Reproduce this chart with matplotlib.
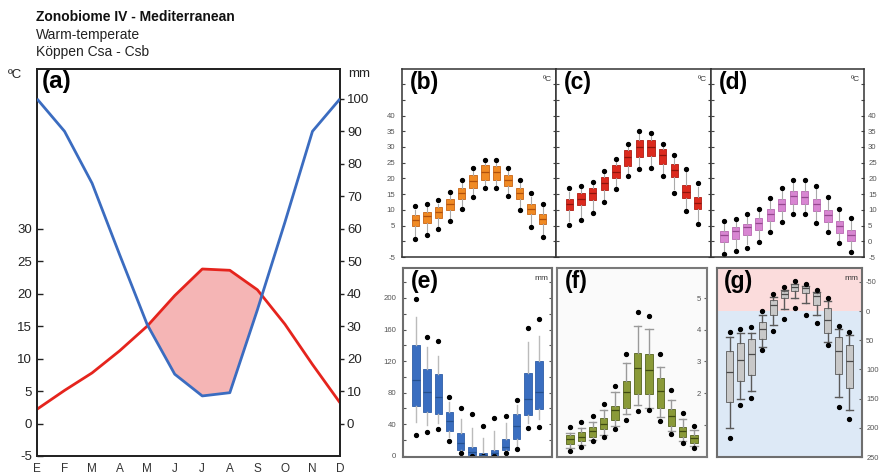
import matplotlib
matplotlib.use('Agg')
import matplotlib.pyplot as plt
import numpy as np

plt.rcParams['font.family'] = ['Liberation Sans', 'DejaVu Sans']
plt.rcParams['axes.unicode_minus'] = False

# ---------------- climate diagram data ----------------
months = ['E', 'F', 'M', 'A', 'M', 'J', 'J', 'A', 'S', 'O', 'N', 'D']
temp_mean = [2.2, 5.1, 7.8, 11.2, 15.0, 19.7, 23.8, 23.6, 20.6, 15.3, 9.1, 3.2]
prec_mean = [100, 90, 74, 52, 30.5, 15.2, 8.5, 9.5, 35, 62, 90, 100]

# ---------------- monthly distributions ----------------
# (b) mean temperature, degC
b_lo = [0.6, 1.9, 3.8, 6.5, 10.2, 14.1, 16.8, 16.8, 14.3, 9.9, 4.6, 1.4]
b_wlo = [1.7, 2.9, 4.8, 7.5, 11.2, 15.1, 17.8, 17.8, 15.3, 10.9, 5.6, 2.4]
b_q1 = [4.9, 5.8, 7.4, 9.9, 13.3, 17.0, 19.6, 19.6, 17.5, 13.6, 8.6, 5.4]
b_med = [6.7, 8.1, 9.3, 11.8, 15.2, 19.2, 22.1, 22.1, 19.6, 15.2, 10.4, 7.2]
b_q3 = [8.3, 9.3, 10.9, 13.3, 17.0, 21.0, 24.2, 23.9, 21.0, 17.0, 11.8, 8.6]
b_whi = [10.0, 11.0, 12.0, 14.7, 18.5, 22.4, 25.0, 25.0, 22.4, 18.4, 14.2, 11.0]
b_hi = [11.1, 12.0, 13.0, 15.7, 19.6, 23.4, 26.0, 26.0, 23.4, 19.4, 15.2, 12.0]

# (c) maximum temperature, degC
c_lo = [5.3, 6.7, 9.1, 12.5, 16.6, 20.7, 23.1, 23.4, 20.8, 15.5, 9.6, 5.6]
c_wlo = [6.3, 7.7, 10.1, 13.5, 17.6, 21.7, 24.1, 24.4, 21.8, 16.5, 10.6, 6.6]
c_q1 = [9.9, 11.5, 13.1, 16.2, 20.0, 23.9, 26.9, 27.2, 24.7, 20.3, 13.8, 10.2]
c_med = [11.7, 13.6, 15.4, 18.4, 22.1, 26.9, 30.0, 30.0, 27.4, 22.6, 15.7, 12.2]
c_q3 = [13.3, 15.4, 17.0, 20.3, 24.2, 29.0, 32.2, 32.2, 29.5, 24.5, 17.8, 14.1]
c_whi = [15.8, 16.6, 17.9, 21.3, 25.3, 30.1, 34.0, 33.5, 30.1, 26.6, 22.1, 17.4]
c_hi = [16.8, 17.6, 18.9, 22.3, 26.3, 31.1, 35.0, 34.5, 31.1, 27.6, 23.1, 18.4]

# (d) minimum temperature, degC
d_lo = [-4.1, -3.2, -2.0, -0.2, 2.8, 6.2, 8.6, 8.6, 5.9, 2.8, -0.7, -3.4]
d_wlo = [-3.1, -2.2, -1.0, 0.8, 3.8, 7.2, 9.6, 9.6, 6.9, 3.8, 0.3, -2.4]
d_q1 = [-0.2, 0.6, 1.9, 3.5, 6.4, 9.6, 11.8, 11.8, 9.7, 6.2, 2.7, 0.1]
d_med = [1.9, 3.3, 4.6, 5.9, 8.6, 11.8, 14.3, 14.1, 12.0, 8.5, 4.9, 2.1]
d_q3 = [3.3, 4.6, 5.6, 7.4, 10.4, 13.3, 16.0, 15.9, 13.6, 9.9, 6.4, 3.5]
d_whi = [5.4, 6.0, 7.6, 9.2, 12.8, 16.0, 18.4, 18.4, 16.5, 13.1, 9.2, 6.4]
d_hi = [6.4, 7.0, 8.6, 10.2, 13.8, 17.0, 19.4, 19.4, 17.5, 14.1, 10.2, 7.4]

# (e) precipitation, mm
e_lo = [27, 30, 34, 19, 4, 0, 0, 0, 3, 9, 35, 36]
e_wlo = [43, 39, 41, 24, 5, 0.5, 0, 0, 4, 13, 41, 47]
e_q1 = [63, 56, 53, 32, 8, 1, 0, 0, 7, 21, 52, 59]
e_med = [96, 81, 75, 44, 16, 5, 1, 3, 11, 38, 72, 81]
e_q3 = [140, 110, 104, 56, 29, 11, 3, 8, 21, 53, 105, 120]
e_whi = [176, 138, 127, 68, 47, 35, 22, 31, 41, 64, 144, 152]
e_hi = [199, 150, 145, 75, 60, 53, 38, 48, 51, 71, 162, 173]

# (f) evapotranspiration
f_lo = [0.18, 0.29, 0.47, 0.60, 0.87, 1.16, 1.42, 1.45, 1.13, 0.71, 0.42, 0.26]
f_wlo = [0.26, 0.37, 0.52, 0.66, 0.97, 1.34, 1.61, 1.52, 1.24, 0.79, 0.50, 0.34]
f_q1 = [0.39, 0.47, 0.62, 0.85, 1.16, 1.53, 1.98, 1.98, 1.52, 0.95, 0.60, 0.41]
f_med = [0.55, 0.62, 0.79, 1.03, 1.45, 2.03, 2.79, 2.72, 2.08, 1.26, 0.81, 0.57]
f_q3 = [0.66, 0.76, 0.92, 1.21, 1.59, 2.37, 3.28, 3.23, 2.46, 1.50, 0.94, 0.68]
f_whi = [0.74, 0.89, 1.08, 1.48, 2.03, 2.95, 4.12, 4.02, 2.83, 1.79, 1.19, 0.84]
f_hi = [0.92, 1.10, 1.29, 1.66, 2.21, 3.22, 4.55, 4.44, 3.22, 2.11, 1.37, 0.95]

# (g) water balance, mm (axis inverted)
g_lo = [35, 30, 28, -1, -29, -41, -51, -47, -37, -23, 25, 35]
g_wlo = [44, 38, 38, 6, -25, -36, -47, -43, -33, -18, 30, 41]
g_q1 = [69, 55, 47, 18, -19, -34, -46, -43, -31, -5, 44, 58]
g_med = [104, 83, 73, 30, -11, -30, -42, -39, -26, 15, 69, 86]
g_q3 = [156, 120, 110, 47, 7, -22, -35, -31, -11, 37, 108, 131]
g_whi = [201, 150, 137, 61, 24, -3, -23, -14, 7, 53, 147, 170]
g_hi = [217, 161, 149, 67, 34, 13, -6, 7, 21, 58, 165, 185]

temp_ticks = [-5, 0, 5, 10, 15, 20, 25, 30, 35, 40]
temp_ticklabels_b = ['-5', '', '5', '10', '15', '20', '25', '30', '35', '40']
temp_ticklabels_d = ['-5', '0', '5', '10', '15', '20', '25', '30', '35', '40']
prec_ticks = [0, 40, 80, 120, 160, 200]
evap_ticks = [1, 2, 3, 4, 5]
evap_ticklabels = ['', '2', '3', '4', '5']
bal_ticks = [-50, 0, 50, 100, 150, 200, 250]

W, H = 880, 474
fig = plt.figure(figsize=(W / 100, H / 100), dpi=100)


def px_axes(x0, y0, x1, y1, **kw):
    return fig.add_axes([x0 / W, 1 - y1 / H, (x1 - x0) / W, (y1 - y0) / H], **kw)


# ---------------- header ----------------
fig.text(36 / W, 1 - 17 / H, 'Zonobiome IV - Mediterranean', fontsize=10,
         fontweight='bold', va='center', ha='left', color='#111111')
fig.text(36 / W, 1 - 35 / H, 'Warm-temperate', fontsize=10, va='center',
         ha='left', color='#222222')
fig.text(36 / W, 1 - 52 / H, 'Köppen Csa - Csb', fontsize=10, va='center',
         ha='left', color='#222222')

# ---------------- (a) climate diagram ----------------
ax1 = px_axes(37, 69, 340, 456)
ax1.set_xlim(0, 11)
t_lim = (-5, 54.6)
ax1.set_ylim(*t_lim)
x = np.arange(12)
ax2 = ax1.twinx()
ax2.set_ylim(t_lim[0] * 2, t_lim[1] * 2)

prec_in_temp = np.array(prec_mean) / 2.0
ax1.fill_between(x, temp_mean, prec_in_temp, where=np.array(temp_mean) > prec_in_temp,
                 interpolate=True, color='#f5b5b5', linewidth=0, zorder=1)
ax1.plot(x, temp_mean, color='#e5241d', lw=2, zorder=3, solid_capstyle='butt')
ax2.plot(x, prec_mean, color='#3b6cc0', lw=2, zorder=3, solid_capstyle='butt')

ax1.set_yticks([-5, 0, 5, 10, 15, 20, 25, 30])
ax1.set_xticks(x)
ax1.set_xticklabels(months)
ax1.tick_params(axis='y', direction='in', length=4, labelsize=9.5, colors='#222222', width=1)
ax1.tick_params(axis='x', length=0, labelsize=8.5, pad=5, colors='#333333')
ax2.set_yticks(np.arange(0, 101, 10))
ax2.tick_params(axis='y', direction='out', length=3, labelsize=9.5, colors='#222222', width=1, pad=2)
for a in (ax1, ax2):
    for s in a.spines.values():
        s.set_linewidth(1.3)
        s.set_color('#222222')
ax1.text(0.015, 0.998, '(a)', transform=ax1.transAxes, fontsize=17.5,
         fontweight='bold', va='top', ha='left')
fig.text(8 / W, 1 - 75 / H, 'ºC', fontsize=9.5, va='center', ha='left', color='#222222')
fig.text(348 / W, 1 - 74 / H, 'mm', fontsize=9.5, va='center', ha='left', color='#222222')


# ---------------- box-plot panels ----------------
def draw_boxes(ax, lo, wlo, q1, med, q3, whi, hi, face, edge, medc, whisc,
               caps=False, whisk_lw=0.8):
    stats = []
    for i in range(12):
        stats.append(dict(med=med[i], q1=q1[i], q3=q3[i], whislo=wlo[i],
                          whishi=whi[i], fliers=[lo[i], hi[i]]))
    ax.bxp(stats, positions=np.arange(1, 13), widths=0.65, patch_artist=True,
           showcaps=caps, capwidths=0.65, manage_ticks=False,
           boxprops=dict(facecolor=face, edgecolor=edge, linewidth=0.6),
           medianprops=dict(color=medc, linewidth=0.9),
           whiskerprops=dict(color=whisc, linewidth=whisk_lw),
           capprops=dict(color=whisc, linewidth=whisk_lw),
           flierprops=dict(marker='o', markerfacecolor='black',
                           markeredgecolor='black', markersize=2.8))
    ax.set_xlim(-0.15, 13.15)
    ax.set_xticks([])


def frame(ax, color, lw):
    for s in ax.spines.values():
        s.set_color(color)
        s.set_linewidth(lw)


def panel_label(ax, txt):
    ax.text(0.05, 0.99, txt, transform=ax.transAxes, fontsize=16.5,
            fontweight='bold', va='top', ha='left', zorder=5)


def unit_label(ax, txt):
    ax.text(0.975, 0.965, txt, transform=ax.transAxes, fontsize=6,
            va='top', ha='right', color='#333333', zorder=5)


small = dict(labelsize=5.6, colors='#555555')

axb = px_axes(402, 69, 556, 257)
axc = px_axes(556, 69, 711, 257)
axd = px_axes(711, 69, 864, 257)
draw_boxes(axb, b_lo, b_wlo, b_q1, b_med, b_q3, b_whi, b_hi,
           '#f08a24', '#c86414', '#b0500c', '#aaaaaa')
draw_boxes(axc, c_lo, c_wlo, c_q1, c_med, c_q3, c_whi, c_hi,
           '#dc2a1e', '#b01c12', '#8c140c', '#aaaaaa')
draw_boxes(axd, d_lo, d_wlo, d_q1, d_med, d_q3, d_whi, d_hi,
           '#d886d2', '#b868b2', '#94488e', '#aaaaaa')
for a, lab in ((axb, '(b)'), (axc, '(c)'), (axd, '(d)')):
    a.set_ylim(-5, 54.8)
    a.set_yticks(np.arange(-5, 51, 5), minor=True)
    frame(a, '#333333', 1.1)
    panel_label(a, lab)
    unit_label(a, 'ºC')
    a.tick_params(axis='y', which='both', direction='in', length=2.5,
                  left=True, right=True, width=0.8, color='#444444', **small)
axb.set_yticks(temp_ticks)
axb.set_yticklabels(temp_ticklabels_b)
axb.tick_params(axis='y', pad=5)
axc.set_yticks(temp_ticks)
axc.tick_params(axis='y', labelleft=False)
axd.set_yticks(temp_ticks)
axd.set_yticklabels(temp_ticklabels_d)
axd.tick_params(axis='y', labelleft=False, labelright=True, pad=3)

# (e) precipitation
axe = px_axes(403, 268, 552, 457)
draw_boxes(axe, e_lo, e_wlo, e_q1, e_med, e_q3, e_whi, e_hi,
           '#3a6ec0', '#2f5ea8', '#24508f', '#bbbbbb', whisk_lw=1.0)
axe.set_ylim(-1.5, 238)
axe.set_yticks(prec_ticks)
axe.set_yticks(np.arange(0, 221, 20), minor=True)
axe.tick_params(axis='y', which='both', direction='in', length=2.5, left=True,
                right=True, width=0.8, color='#555555', pad=5, **small)
frame(axe, '#6e6e6e', 1.5)
panel_label(axe, '(e)')
unit_label(axe, 'mm')

# (f) evapotranspiration
axf = px_axes(557, 268, 707, 457)
axf.set_facecolor('#fafafa')
draw_boxes(axf, f_lo, f_wlo, f_q1, f_med, f_q3, f_whi, f_hi,
           '#8a9a38', '#55631e', '#3f4a12', '#9a9a9a', caps=True, whisk_lw=1.0)
axf.set_ylim(-0.02, 5.95)
axf.yaxis.tick_right()
axf.set_yticks(evap_ticks)
axf.set_yticklabels(evap_ticklabels)
axf.tick_params(axis='y', direction='in', length=2.5, width=0.8,
                color='#666666', pad=-4, **small)
for t in axf.get_yticklabels():
    t.set_horizontalalignment('right')
frame(axf, '#7a7a7a', 1.5)
panel_label(axf, '(f)')

# (g) water balance
axg = px_axes(717, 268, 862, 457)
axg.axhspan(-80, 0, color='#fbdcdc', zorder=0, lw=0)
axg.axhspan(0, 260, color='#dde9f6', zorder=0, lw=0)
draw_boxes(axg, g_lo, g_wlo, g_q1, g_med, g_q3, g_whi, g_hi,
           '#c8c8c8', '#5a5a5a', '#4a4a4a', '#5a5a5a', caps=True, whisk_lw=1.0)
axg.set_ylim(250, -74)
axg.yaxis.tick_right()
axg.set_yticks(bal_ticks)
axg.tick_params(axis='y', direction='in', length=2.5, width=0.8,
                color='#666666', pad=3, labelsize=5.4, colors='#555555')
frame(axg, '#6e6e6e', 1.5)
panel_label(axg, '(g)')
unit_label(axg, 'mm')

fig.savefig('out.png', dpi=100)
